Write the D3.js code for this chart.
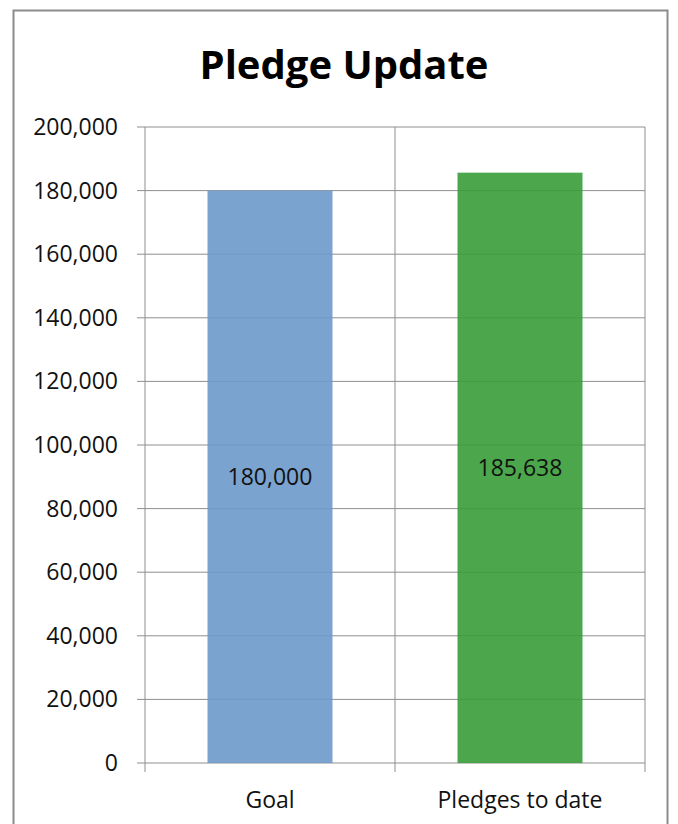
<!DOCTYPE html>
<html>
<head>
<meta charset="utf-8">
<script src="https://cdn.jsdelivr.net/npm/d3@7"></script>
<style>
  body { margin: 0; background: #fff; }
  svg { display: block; font-family: "Open Sans", sans-serif; }
</style>
</head>
<body>
<svg class="canvas" width="678" height="824"></svg>
<script>
const categories = ["Goal", "Pledges to date"];
const values = [180000, 185638];
const colors = ["#6c99cb", "#389c38"];
const yTicks = [0, 20000, 40000, 60000, 80000, 100000, 120000, 140000, 160000, 180000, 200000];

function render() {
  const svg = d3.select(".canvas");
  const left = 145, right = 645, top = 127, bottom = 763;

  // chart frame
  svg.append("rect")
    .attr("x", 13.5).attr("y", 10.5)
    .attr("width", 654).attr("height", 830)
    .attr("fill", "#fff").attr("stroke", "#8c8c8c").attr("stroke-width", 2);

  svg.append("text")
    .attr("x", 344).attr("y", 79)
    .attr("text-anchor", "middle")
    .attr("font-size", 40).attr("font-weight", "bold")
    .text("Pledge Update");

  const x = d3.scaleBand().domain(categories).range([left, right])
    .paddingInner(0.5).paddingOuter(0.25);
  const y = d3.scaleLinear().domain([0, 200000]).range([bottom, top]);

  // horizontal gridlines
  svg.append("g")
    .selectAll("line")
    .data(yTicks)
    .join("line")
    .attr("x1", left - 8).attr("x2", right)
    .attr("y1", d => y(d)).attr("y2", d => y(d))
    .attr("stroke", "#8f8f8f");

  // vertical gridlines at category boundaries
  const bounds = [left, ...categories.slice(1).map(c => x(c) - x.step() * x.paddingInner() / 2), right];
  svg.append("g")
    .selectAll("line")
    .data(bounds)
    .join("line")
    .attr("x1", d => d).attr("x2", d => d)
    .attr("y1", top).attr("y2", bottom + 9)
    .attr("stroke", "#8f8f8f");

  // y tick labels
  svg.append("g")
    .selectAll("text")
    .data(yTicks)
    .join("text")
    .attr("x", 118).attr("y", d => y(d))
    .attr("dy", "0.35em")
    .attr("text-anchor", "end")
    .attr("font-size", 23)
    .attr("fill", "#111")
    .text(d => d3.format(",")(d));

  // bars
  svg.append("g")
    .selectAll("rect")
    .data(values)
    .join("rect")
    .attr("x", (d, i) => x(categories[i]))
    .attr("y", d => y(d))
    .attr("width", x.bandwidth())
    .attr("height", d => y(0) - y(d))
    .attr("fill", (d, i) => colors[i])
    .attr("fill-opacity", 0.9);

  // data labels
  svg.append("g")
    .selectAll("text")
    .data(values)
    .join("text")
    .attr("x", (d, i) => x(categories[i]) + x.bandwidth() / 2)
    .attr("y", d => y(d / 2))
    .attr("dy", "0.35em")
    .attr("text-anchor", "middle")
    .attr("font-size", 23)
    .attr("fill", "#111")
    .text(d => d3.format(",")(d));

  // category labels
  svg.append("g")
    .selectAll("text")
    .data(categories)
    .join("text")
    .attr("x", d => x(d) + x.bandwidth() / 2)
    .attr("y", 800)
    .attr("dy", "0.35em")
    .attr("text-anchor", "middle")
    .attr("font-size", 23)
    .attr("fill", "#111")
    .text(d => d);
}

window.onload = render;
</script>
</body>
</html>
